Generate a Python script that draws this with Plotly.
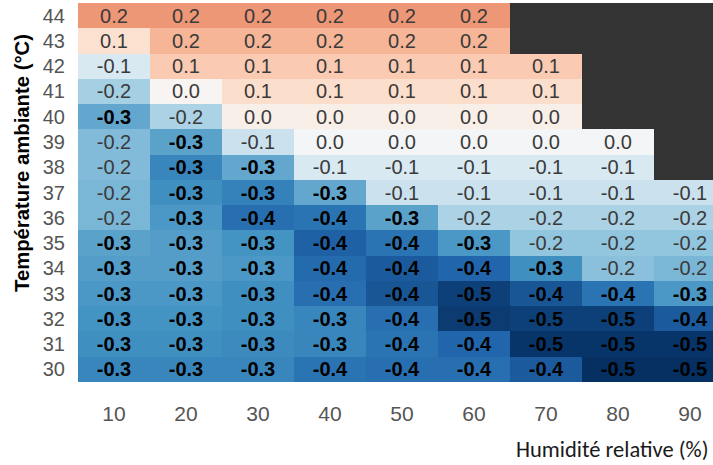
import plotly.graph_objects as go

humidity = [10, 20, 30, 40, 50, 60, 70, 80, 90]
temperatures = [44, 43, 42, 41, 40, 39, 38, 37, 36, 35, 34, 33, 32, 31, 30]

# écart values (read from cell labels, refined from cell shade); None = no data
row_44 = [0.22, 0.22, 0.22, 0.22, 0.22, 0.22, None, None, None]
row_43 = [0.08, 0.17, 0.17, 0.17, 0.17, 0.17, None, None, None]
row_42 = [-0.08, 0.13, 0.13, 0.13, 0.13, 0.13, 0.13, None, None]
row_41 = [-0.17, 0.01, 0.09, 0.09, 0.09, 0.09, 0.09, None, None]
row_40 = [-0.26, -0.16, 0.03, 0.03, 0.03, 0.03, 0.03, None, None]
row_39 = [-0.22, -0.27, -0.11, -0.01, -0.01, -0.01, -0.01, -0.01, None]
row_38 = [-0.22, -0.33, -0.26, -0.08, -0.08, -0.08, -0.08, -0.08, None]
row_37 = [-0.23, -0.31, -0.34, -0.26, -0.11, -0.11, -0.11, -0.11, -0.11]
row_36 = [-0.23, -0.29, -0.38, -0.37, -0.27, -0.16, -0.16, -0.16, -0.16]
row_35 = [-0.27, -0.28, -0.30, -0.41, -0.37, -0.29, -0.20, -0.20, -0.20]
row_34 = [-0.28, -0.28, -0.29, -0.39, -0.42, -0.40, -0.31, -0.21, -0.23]
row_33 = [-0.29, -0.29, -0.31, -0.38, -0.43, -0.47, -0.43, -0.37, -0.29]
row_32 = [-0.30, -0.30, -0.31, -0.33, -0.38, -0.48, -0.47, -0.47, -0.42]
row_31 = [-0.31, -0.31, -0.32, -0.33, -0.37, -0.40, -0.49, -0.49, -0.49]
row_30 = [-0.33, -0.33, -0.33, -0.37, -0.38, -0.38, -0.42, -0.50, -0.50]

z = [row_44, row_43, row_42, row_41, row_40, row_39, row_38, row_37,
     row_36, row_35, row_34, row_33, row_32, row_31, row_30]


def fmt(v):
    if v is None:
        return ""
    r = round(v, 1)
    if r == 0:
        r = 0.0
    s = f"{abs(r):.1f}"
    if r < 0:
        s = "-" + s
    if r <= -0.3:
        return f"<span style='color:#000000'><b>{s}</b></span>"
    return s


labels = [[fmt(v) for v in row] for row in z]

rdbu = [
    [0.0, "#053061"], [0.1, "#2166ac"], [0.2, "#4393c3"], [0.3, "#92c5de"],
    [0.4, "#d1e5f0"], [0.5, "#f7f7f7"], [0.6, "#fddbc7"], [0.7, "#f4a582"],
    [0.8, "#d6604d"], [0.9, "#b2182b"], [1.0, "#67001f"],
]

fig = go.Figure(
    go.Heatmap(
        x=humidity, y=temperatures, z=z,
        text=labels, texttemplate="%{text}",
        textfont=dict(family="Liberation Sans, Arial", size=20, color="#3a3a3a"),
        colorscale=rdbu, zmin=-0.5, zmax=0.5, showscale=False,
        hoverongaps=False,
    )
)

W, H = 713, 465
L, R, T, B = 78, 0, 3, 83
plot_w = W - L - R
plot_h = H - T - B
col_px = 72.0
x_end = 5 + plot_w / col_px * 10

fig.update_layout(
    width=W, height=H,
    margin=dict(l=L, r=R, t=T, b=B, pad=0),
    paper_bgcolor="white",
    plot_bgcolor="#333333",
    font=dict(family="Liberation Sans, Arial"),
    xaxis=dict(
        range=[5, x_end], tickvals=humidity, ticktext=[str(h) for h in humidity],
        showgrid=False, zeroline=False, showline=False, ticks="",
        tickfont=dict(size=21, color="#555555"), ticklabelstandoff=17,
    ),
    yaxis=dict(
        range=[29.5, 44.5], tickvals=temperatures,
        ticktext=[str(t) for t in temperatures],
        showgrid=False, zeroline=False, showline=False, ticks="",
        tickfont=dict(size=20, color="#555555"), ticklabelstandoff=12,
    ),
    annotations=[
        dict(
            text="<b>Température ambiante (°C)</b>", textangle=-90,
            xref="paper", yref="paper",
            x=(22 - L) / plot_w, y=(H - B - 163) / plot_h,
            xanchor="center", yanchor="middle", showarrow=False,
            font=dict(family="Liberation Sans, Arial", size=20.3, color="#000000"),
        ),
        dict(
            text="Humidité relative (%)",
            xref="paper", yref="paper",
            x=(711 - L) / plot_w, y=(H - B - 449) / plot_h,
            xanchor="right", yanchor="middle", showarrow=False,
            font=dict(family="Carlito, Lato", size=22.5, color="#1a1a1a"),
        ),
    ],
)

fig.write_html("out.html")
